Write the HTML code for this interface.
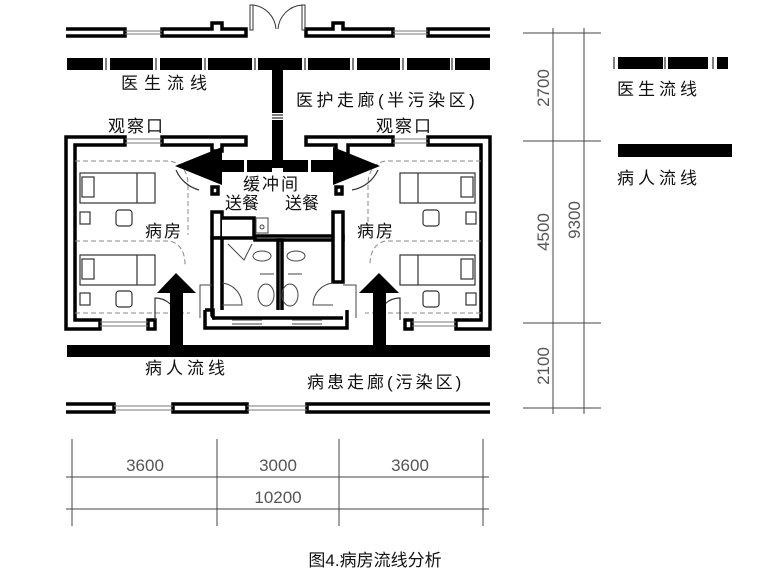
<!DOCTYPE html>
<html><head><meta charset="utf-8"><style>
html,body{margin:0;padding:0;background:#fff;}
svg{display:block;}
.t{font-family:"Liberation Sans","Noto Sans CJK SC",sans-serif;fill:#111;}
.d{font-family:"Liberation Sans Narrow","Liberation Sans",sans-serif;fill:#555;}
</style></head><body>
<svg width="772" height="579" viewBox="0 0 772 579" xmlns="http://www.w3.org/2000/svg">
<rect width="772" height="579" fill="#fff"/>
<g fill="#fff" stroke="#000" stroke-width="3.5">
<path d="M66 29H125V36H66"/>
<path d="M162 29H212V23H222V29H246V36H162Z"/>
<path d="M306 29H333V23H343V29H393V36H306Z"/>
<path d="M490 29H428V36H490"/>
</g>
<g stroke="#777" stroke-width="1">
<line x1="125" y1="31" x2="162" y2="31"/><line x1="125" y1="34" x2="162" y2="34"/>
<line x1="393" y1="31" x2="428" y2="31"/><line x1="393" y1="34" x2="428" y2="34"/>
</g>
<g fill="none" stroke="#333" stroke-width="1">
<rect x="250" y="5" width="3" height="25"/><rect x="302" y="5" width="3" height="25"/>
<path d="M253 5A26 26 0 0 1 276 29"/><path d="M302 5A26 26 0 0 0 278 29"/>
</g>
<g fill="#000">
<rect x="67" y="58" width="36" height="12"/><rect x="110" y="58" width="43" height="12"/>
<rect x="160" y="58" width="42" height="12"/><rect x="208" y="58" width="44" height="12"/>
<rect x="258" y="58" width="44" height="12"/><rect x="308" y="58" width="42" height="12"/>
<rect x="357" y="58" width="43" height="12"/><rect x="407" y="58" width="43" height="12"/>
<rect x="455" y="58" width="35" height="12"/>
<rect x="272" y="58" width="11" height="55"/><rect x="272" y="120" width="11" height="48"/>
</g>
<g stroke="#000" stroke-width="1">
<line x1="106" y1="58" x2="106" y2="70"/><line x1="156" y1="58" x2="156" y2="70"/>
<line x1="205" y1="58" x2="205" y2="70"/><line x1="255" y1="58" x2="255" y2="70"/>
<line x1="305" y1="58" x2="305" y2="70"/><line x1="353" y1="58" x2="353" y2="70"/>
<line x1="403" y1="58" x2="403" y2="70"/><line x1="452" y1="58" x2="452" y2="70"/>
<line x1="272" y1="115" x2="283" y2="115"/><line x1="272" y1="118" x2="283" y2="118"/>
</g>
<g fill="#fff" stroke="#000" stroke-width="3.5">
<path d="M66 137H125V145H75V320H100V329H66Z"/>
<path d="M162 137H246V145H222V151H212V145H162Z"/>
<path d="M306 137H393V145H348V156H336V145H306Z"/>
<path d="M428 137H490V329H456V320H481V145H428Z"/>
<path d="M148 320H155V329H148Z"/>
<path d="M405 320H412V329H405Z"/>
</g>
<g stroke="#777" stroke-width="1">
<line x1="125" y1="139" x2="162" y2="139"/><line x1="125" y1="143" x2="162" y2="143"/>
<line x1="393" y1="139" x2="428" y2="139"/><line x1="393" y1="143" x2="428" y2="143"/>
<line x1="100" y1="322" x2="148" y2="322"/><line x1="100" y1="326" x2="148" y2="326"/>
<line x1="412" y1="322" x2="456" y2="322"/><line x1="412" y1="326" x2="456" y2="326"/>
</g>
<g fill="none" stroke="#888" stroke-width="1" stroke-dasharray="5,3">
<path d="M75 161H170Q188 165 188 185V235"/>
<path d="M75 241H170Q185 245 185 265"/>
<path d="M75 313H190"/>
<path d="M481 161H385Q368 165 368 185V235"/>
<path d="M481 241H385Q370 245 370 265"/>
<path d="M481 313H365"/>
</g>
<g fill="none" stroke="#333" stroke-width="1.2">
<rect x="80" y="173" width="75" height="30"/><line x1="137" y1="173" x2="137" y2="203"/><rect x="82" y="177" width="12" height="20"/>
<rect x="80" y="255" width="75" height="30"/><line x1="137" y1="255" x2="137" y2="285"/><rect x="82" y="259" width="12" height="20"/>
<rect x="116" y="210" width="16" height="16" rx="3"/><rect x="116" y="291" width="16" height="16" rx="3"/>
<rect x="80" y="212" width="10" height="12"/><rect x="80" y="293" width="10" height="12"/>
<rect x="400" y="173" width="75" height="30"/><line x1="418" y1="173" x2="418" y2="203"/><rect x="461" y="177" width="12" height="20"/>
<rect x="400" y="255" width="75" height="30"/><line x1="418" y1="255" x2="418" y2="285"/><rect x="461" y="259" width="12" height="20"/>
<rect x="423" y="210" width="16" height="16" rx="3"/><rect x="423" y="291" width="16" height="16" rx="3"/>
<rect x="466" y="212" width="10" height="12"/><rect x="466" y="293" width="10" height="12"/>
<path d="M155 320V298A22 22 0 0 1 177 318"/>
<path d="M400 320V298A22 22 0 0 0 378 318"/>
<path d="M199 190A35 35 0 0 1 176 170"/><path d="M352 190A35 35 0 0 0 378 170"/>
</g>
<g fill="#fff" stroke="#000" stroke-width="3.5">
<path d="M212 212H222V238H212Z"/>
<path d="M212 238H222V318H212Z"/>
<path d="M222 218H254V238H222"/>
<path d="M255 236H343V240H255Z"/>
<path d="M333 212H343V282H333Z"/>
<path d="M278 240H282V318H278Z"/>
<path d="M205 310H213V318H212M205 310V328H347V310"/>
<path d="M213 318H343"/>
<rect x="212" y="187" width="6" height="7"/><rect x="336" y="187" width="6" height="7"/>
</g>
<g fill="none" stroke="#444" stroke-width="1">
<path d="M256 218H268V233H256Z"/><circle cx="262" cy="227" r="2"/>
<path d="M228 244L244 260L252 244"/>
<ellipse cx="262" cy="256" rx="9" ry="5"/><ellipse cx="296" cy="256" rx="9" ry="5"/>
<line x1="260" y1="274" x2="274" y2="274"/><line x1="288" y1="274" x2="302" y2="274"/>
<ellipse cx="266" cy="295" rx="8" ry="11"/><ellipse cx="290" cy="295" rx="8" ry="11"/>
<path d="M222 305H242A22 22 0 0 0 222 283"/>
<path d="M333 305H313A22 22 0 0 1 333 283"/>
<line x1="232" y1="320" x2="262" y2="320"/><line x1="232" y1="324" x2="262" y2="324"/>
<line x1="292" y1="320" x2="322" y2="320"/><line x1="292" y1="324" x2="322" y2="324"/>
<path d="M212 285H200V318M343 285H356V318"/>
</g>
<g fill="#000">
<polygon points="175,166 222,147 222,185"/>
<polygon points="380,166 333,147 333,185"/>
<rect x="222" y="160" width="22" height="12"/><rect x="247" y="160" width="25" height="12"/>
<rect x="283" y="160" width="25" height="12"/><rect x="311" y="160" width="22" height="12"/>
</g>
<g fill="#000">
<rect x="67" y="345" width="423" height="12"/>
<rect x="170" y="292" width="13" height="55"/><polygon points="157,293 196,293 176,273"/>
<rect x="373" y="292" width="13" height="55"/><polygon points="359,293 399,293 379,273"/>
</g>
<g fill="#fff" stroke="#000" stroke-width="3.5">
<path d="M66 404H114V412H66"/>
<path d="M173 404H247V412H173Z"/>
<path d="M490 404H307V412H490"/>
</g>
<g stroke="#777" stroke-width="1">
<line x1="114" y1="406" x2="173" y2="406"/><line x1="114" y1="410" x2="173" y2="410"/>
<line x1="247" y1="406" x2="307" y2="406"/><line x1="247" y1="410" x2="307" y2="410"/>
</g>
<g class="t" font-size="17">
<text x="121" y="89" letter-spacing="6">医生流线</text>
<text x="296" y="106" letter-spacing="3.5">医护走廊(半污染区)</text>
<text x="108" y="132" letter-spacing="2">观察口</text>
<text x="376" y="132" letter-spacing="2">观察口</text>
<text x="243" y="190" letter-spacing="2">缓冲间</text>
<text x="225" y="209" letter-spacing="0">送餐</text>
<text x="285" y="209" letter-spacing="0">送餐</text>
<text x="145" y="237" letter-spacing="2">病房</text>
<text x="357" y="237" letter-spacing="2">病房</text>
<text x="145" y="374" letter-spacing="4">病人流线</text>
<text x="307" y="388" letter-spacing="3">病患走廊(污染区)</text>
<text x="617" y="95" letter-spacing="4">医生流线</text>
<text x="617" y="184" letter-spacing="4">病人流线</text>
</g>
<g fill="#000">
<rect x="618" y="57" width="45" height="12"/><rect x="668" y="57" width="40" height="12"/><rect x="717" y="57" width="11" height="12"/>
<rect x="618" y="144" width="114" height="13"/>
</g>
<g stroke="#000" stroke-width="1"><line x1="614" y1="57" x2="614" y2="69"/><line x1="665" y1="57" x2="665" y2="69"/><line x1="713" y1="57" x2="713" y2="69"/></g>
<g stroke="#444" stroke-width="1">
<line x1="553" y1="28" x2="553" y2="414"/><line x1="584" y1="28" x2="584" y2="414"/>
<line x1="523" y1="33" x2="601" y2="33"/><line x1="523" y1="141" x2="601" y2="141"/>
<line x1="523" y1="323" x2="601" y2="323"/><line x1="523" y1="408" x2="601" y2="408"/>
<line x1="72" y1="439" x2="72" y2="526"/><line x1="217" y1="439" x2="217" y2="526"/>
<line x1="339" y1="439" x2="339" y2="526"/><line x1="483" y1="439" x2="483" y2="526"/>
<line x1="66" y1="477" x2="489" y2="477"/><line x1="66" y1="509" x2="489" y2="509"/>
</g>
<g class="d" font-size="17">
<text transform="translate(549 88) rotate(-90)" text-anchor="middle">2700</text>
<text transform="translate(549 232) rotate(-90)" text-anchor="middle">4500</text>
<text transform="translate(580 220) rotate(-90)" text-anchor="middle">9300</text>
<text transform="translate(549 366) rotate(-90)" text-anchor="middle">2100</text>
<text x="145" y="471" text-anchor="middle">3600</text>
<text x="278" y="471" text-anchor="middle">3000</text>
<text x="410" y="471" text-anchor="middle">3600</text>
<text x="278" y="503" text-anchor="middle">10200</text>
</g>
<text class="t" x="375" y="566" font-size="17" text-anchor="middle" fill="#333">图4.病房流线分析</text>
</svg>
</body></html>
